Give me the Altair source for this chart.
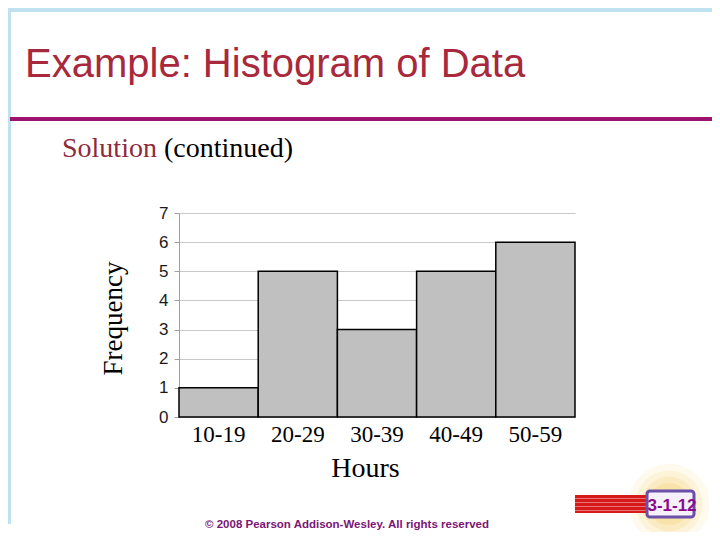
import altair as alt
import pandas as pd

# ---- data ----
hours = ["10-19", "20-29", "30-39", "40-49", "50-59"]
frequency = [1, 5, 3, 5, 6]
y_ticks = [0, 1, 2, 3, 4, 5, 6, 7]

slide_title = "Example: Histogram of Data"
subtitle_a = "Solution"
subtitle_b = "(continued)"
x_title = "Hours"
y_title = "Frequency"
copyright_text = "\u00a9 2008 Pearson Addison-Wesley. All rights reserved"
slide_number = "3-1-12"

df = pd.DataFrame({"hours": hours, "freq": frequency})
one = pd.DataFrame({"d": [0]})

W, H = 396, 204

bars = alt.Chart(df).mark_bar(
    color="#C0C0C0", stroke="#000000", strokeWidth=1.5
).encode(
    x=alt.X("hours:N", sort=hours,
            scale=alt.Scale(paddingInner=0, paddingOuter=0),
            axis=alt.Axis(title=x_title, labelAngle=0, ticks=False, domain=False,
                          labelFont="Liberation Serif", labelFontSize=23, labelColor="#000000",
                          labelBaseline="alphabetic", labelPadding=24,
                          titleFont="Liberation Serif", titleFontSize=28, titleFontWeight="normal",
                          titleColor="#000000", titleX=186, titleY=59, titleAlign="center",
                          titleBaseline="alphabetic")),
    y=alt.Y("freq:Q", scale=alt.Scale(domain=[0, 7], nice=False),
            axis=alt.Axis(title=y_title, values=y_ticks, grid=True, gridColor="#C8C8C8",
                          domainColor="#A0A0A0", tickColor="#A0A0A0", tickSize=5,
                          labelFont="Liberation Sans", labelFontSize=17, labelColor="#1A1A1A",
                          labelPadding=6,
                          titleFont="Liberation Serif", titleFontSize=27, titleFontWeight="normal",
                          titleColor="#000000", titleAngle=270, titleX=-58, titleY=105,
                          titleAlign="center", titleBaseline="alphabetic")),
)

base = alt.Chart(one)

# slide frame (light blue edge)
frame_left = base.mark_rect(color="#BFE2F0").encode(
    x=alt.value(-171), x2=alt.value(-168), y=alt.value(-205), y2=alt.value(311))
frame_top = base.mark_rect(color="#BFE2F0").encode(
    x=alt.value(-171), x2=alt.value(533), y=alt.value(-205), y2=alt.value(-201))

title = base.mark_text(text=slide_title, font="Liberation Sans", fontSize=40,
                       color="#A8283C", align="left", baseline="alphabetic").encode(
    x=alt.value(-154), y=alt.value(-136))

purple_rule = base.mark_rule(color="#9C1470", strokeWidth=4).encode(
    x=alt.value(-169), x2=alt.value(533), y=alt.value(-94))

sub_a = base.mark_text(text=subtitle_a, font="Liberation Serif", fontSize=28,
                       color="#8E2A3C", align="left", baseline="alphabetic").encode(
    x=alt.value(-117), y=alt.value(-56))
sub_b = base.mark_text(text=subtitle_b, font="Liberation Serif", fontSize=28,
                       color="#000000", align="left", baseline="alphabetic").encode(
    x=alt.value(-15), y=alt.value(-56))

copyright = base.mark_text(text=copyright_text, font="Liberation Sans", fontSize=11.5,
                           fontWeight="bold", color="#7B1574", align="center",
                           baseline="alphabetic").encode(
    x=alt.value(168), y=alt.value(315))

# slide number badge with soft glow
glows = [
    base.mark_circle(color="#F0C540", opacity=op, size=sz).encode(
        x=alt.value(490), y=alt.value(291))
    for sz, op in ((6500, 0.09), (4500, 0.12), (3000, 0.15), (1800, 0.18), (900, 0.2))
]
stripes = base.mark_rect(color="#D41A1A").encode(
    x=alt.value(396), x2=alt.value(470), y=alt.value(282), y2=alt.value(300))
stripe_lines = [
    base.mark_rule(color="#F07070", strokeWidth=1).encode(
        x=alt.value(396), x2=alt.value(470), y=alt.value(v))
    for v in (285.5, 289.5, 293.5, 297.5)
]
box = base.mark_rect(fill="#F6F0FB", stroke="#6A50A8", strokeWidth=3, cornerRadius=3).encode(
    x=alt.value(468), x2=alt.value(515), y=alt.value(278), y2=alt.value(304))
badge = base.mark_text(text=slide_number, font="Liberation Sans", fontSize=17,
                       fontWeight="bold", color="#8A0A8A", align="center",
                       baseline="alphabetic").encode(
    x=alt.value(493), y=alt.value(298))

chart = alt.layer(
    frame_left, frame_top, title, purple_rule, sub_a, sub_b, bars, copyright,
    *glows, stripes, *stripe_lines, box, badge
).properties(
    width=W, height=H,
    autosize=alt.AutoSizeParams(type="none"),
    padding={"left": 171, "top": 205, "right": 137, "bottom": 115},
    background="#FFFFFF",
).configure_view(stroke=None)

chart.save("out.html", embed_options={"renderer": "svg", "actions": False})
